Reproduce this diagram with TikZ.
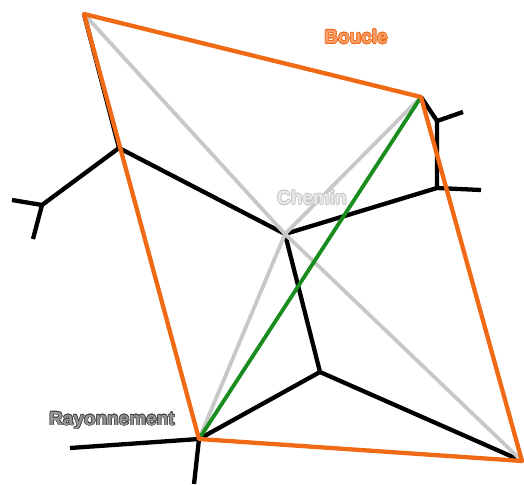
\documentclass[tikz,border=0pt]{standalone}
\usepackage{fontspec}
\setmainfont{Liberation Sans}
\usepackage{contour}
\contourlength{0.6pt}
\definecolor{loopcol}{RGB}{240,105,20}
\definecolor{loopfill}{RGB}{246,160,110}
\definecolor{pathcol}{RGB}{200,200,200}
\definecolor{pathfill}{RGB}{232,232,232}
\definecolor{raycol}{RGB}{70,70,70}
\definecolor{rayfill}{RGB}{150,150,150}
\definecolor{pgreen}{RGB}{25,140,30}
\tikzset{
  edge/.style={line width=4.3pt, draw=black},
  grayline/.style={line width=3.8pt, draw=pathcol},
  greenline/.style={line width=3.8pt, draw=pgreen},
  loopline/.style={line width=4.3pt, draw=loopcol},
  lbl/.style={font=\bfseries\fontsize{19}{19}\selectfont, inner sep=0pt}
}
\begin{document}
\begin{tikzpicture}[x=1pt,y=-1pt,line join=round]
\useasboundingbox (0,0) rectangle (524,484);
\coordinate (A) at (84,14);
\coordinate (B) at (421,97);
\coordinate (C) at (522,461);
\coordinate (D) at (199,439);
\coordinate (P) at (285,234);
\coordinate (Q) at (320,372);
\coordinate (J1) at (119,148);
\coordinate (J2) at (42,205);
\coordinate (L1) at (12,200);
\coordinate (L2) at (33,239);
\coordinate (R1) at (437,121);
\coordinate (R1e) at (463,112);
\coordinate (R2) at (437,188);
\coordinate (R2e) at (481,190);
\coordinate (Dl) at (70,448);
\coordinate (Db) at (194,484);
% black graph
\draw[edge] (A) -- (J1) -- (P);
\draw[edge] (J1) -- (J2) -- (L1);
\draw[edge] (J2) -- (L2);
\draw[edge] (B) -- (R1) -- (R2) -- (P);
\draw[edge] (R1) -- (R1e);
\draw[edge] (R2) -- (R2e);
\draw[edge] (P) -- (Q) -- (D);
\draw[edge] (Q) -- (C);
\draw[edge] (Dl) -- (D) -- (Db);
% gray paths
\draw[grayline] (A) -- (P) -- (C);
\draw[grayline] (B) -- (P) -- (D);
% green
\draw[greenline] (B) -- (D);
% orange loop
\draw[loopline] (A) -- (B) -- (C) -- (D) -- cycle;
% labels
\node[lbl, text=loopfill] (boucle) at (356,37) {\contour{loopcol}{Boucle}};
\node[lbl, text=pathfill] (chemin) at (312,198) {\contour{pathcol}{Chemin}};
\node[lbl, text=rayfill] (rayon) at (112,421) {\contour{raycol}{Rayonnement}};
\end{tikzpicture}
\end{document}
